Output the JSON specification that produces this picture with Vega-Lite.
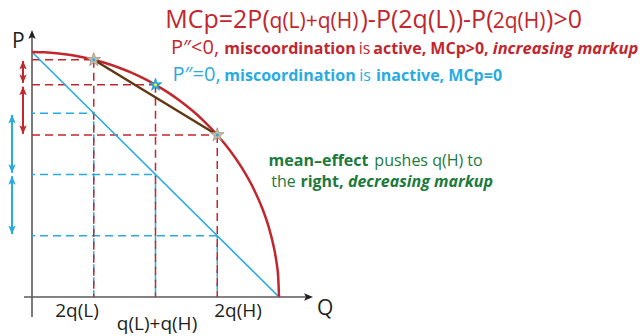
{
  "$schema": "https://vega.github.io/schema/vega-lite/v6.json",
  "width": 644,
  "height": 336,
  "autosize": {"type": "none"},
  "padding": 0,
  "background": "white",
  "config": {"view": {"stroke": null}, "text": {"font": "Open Sans"}},
  "datasets": {
    "segments": [
      {"kind": "axis", "x": 0, "y": -0.0816, "x2": 0, "y2": 1.07},
      {"kind": "axis", "x": -0.0324, "y": 0, "x2": 1.12, "y2": 0},
      {"kind": "blueDash", "x": 0, "y": 0.75, "x2": 0.25, "y2": 0.75},
      {"kind": "blueDash", "x": 0, "y": 0.5, "x2": 0.5, "y2": 0.5},
      {"kind": "blueDash", "x": 0, "y": 0.25, "x2": 0.75, "y2": 0.25},
      {"kind": "blueDash", "x": 0.25, "y": 0.75, "x2": 0.25, "y2": 0},
      {"kind": "blueDash", "x": 0.5, "y": 0.5, "x2": 0.5, "y2": 0},
      {"kind": "blueDash", "x": 0.75, "y": 0.25, "x2": 0.75, "y2": 0},
      {"kind": "redDash", "x": 0, "y": 0.9682, "x2": 0.25, "y2": 0.9682},
      {"kind": "redDash", "x": 0, "y": 0.866, "x2": 0.5, "y2": 0.866},
      {"kind": "redDash", "x": 0, "y": 0.6614, "x2": 0.75, "y2": 0.6614},
      {"kind": "redDash", "x": 0.25, "y": 0.9682, "x2": 0.25, "y2": 0},
      {"kind": "redDash", "x": 0.5, "y": 0.866, "x2": 0.5, "y2": 0},
      {"kind": "redDash", "x": 0.75, "y": 0.6614, "x2": 0.75, "y2": 0},
      {"kind": "blueLine", "x": 0, "y": 1, "x2": 1, "y2": 0},
      {"kind": "chord", "x": 0.25, "y": 0.9682, "x2": 0.75, "y2": 0.6614},
      {"kind": "redArrow", "x": -0.0364, "y": 0.963, "x2": -0.0364, "y2": 0.874},
      {"kind": "redArrow", "x": -0.0364, "y": 0.858, "x2": -0.0364, "y2": 0.666},
      {"kind": "blueArrow", "x": -0.081, "y": 0.743, "x2": -0.081, "y2": 0.507},
      {"kind": "blueArrow", "x": -0.081, "y": 0.493, "x2": -0.081, "y2": 0.257}
    ],
    "curve": [
      {"x": 0, "y": 1},
      {"x": 0.05, "y": 0.9987},
      {"x": 0.1, "y": 0.995},
      {"x": 0.15, "y": 0.9887},
      {"x": 0.2, "y": 0.9798},
      {"x": 0.25, "y": 0.9682},
      {"x": 0.3, "y": 0.9539},
      {"x": 0.35, "y": 0.9367},
      {"x": 0.4, "y": 0.9165},
      {"x": 0.45, "y": 0.893},
      {"x": 0.5, "y": 0.866},
      {"x": 0.55, "y": 0.8352},
      {"x": 0.6, "y": 0.8},
      {"x": 0.65, "y": 0.7599},
      {"x": 0.7, "y": 0.7141},
      {"x": 0.75, "y": 0.6614},
      {"x": 0.8, "y": 0.6},
      {"x": 0.85, "y": 0.5268},
      {"x": 0.9, "y": 0.4359},
      {"x": 0.93, "y": 0.3676},
      {"x": 0.96, "y": 0.28},
      {"x": 0.98, "y": 0.199},
      {"x": 0.99, "y": 0.141},
      {"x": 0.997, "y": 0.0774},
      {"x": 1.0, "y": 0}
    ],
    "heads": [
      {"x": -0.0364, "y": 0.965, "dir": "up", "c": "red"},
      {"x": -0.0364, "y": 0.872, "dir": "down", "c": "red"},
      {"x": -0.0364, "y": 0.86, "dir": "up", "c": "red"},
      {"x": -0.0364, "y": 0.664, "dir": "down", "c": "red"},
      {"x": -0.081, "y": 0.745, "dir": "up", "c": "blue"},
      {"x": -0.081, "y": 0.505, "dir": "down", "c": "blue"},
      {"x": -0.081, "y": 0.495, "dir": "up", "c": "blue"},
      {"x": -0.081, "y": 0.255, "dir": "down", "c": "blue"},
      {"x": 0, "y": 1.0898, "dir": "up", "c": "black"},
      {"x": 1.1377, "y": 0, "dir": "right", "c": "black"}
    ],
    "stars": [
      {"x": 0.25, "y": 0.9682, "kind": "tan"},
      {"x": 0.75, "y": 0.6614, "kind": "tan"},
      {"x": 0.5, "y": 0.866, "kind": "blue"}
    ],
    "labels": [
      {"role": "title", "c": "red", "text": "MCp=2P(", "x": 0.75101, "y": 1.09796},
      {"role": "title", "c": "red", "text": ")-P(2q(L))-P(", "x": 1.59919, "y": 1.09796},
      {"role": "title", "c": "red", "text": ")>0", "x": 2.15385, "y": 1.09796},
      {"role": "titlesub", "c": "red", "text": "q(L)+q(H)", "x": 1.1417, "y": 1.09796},
      {"role": "titlesub", "c": "red", "text": "2q(H)", "x": 1.97166, "y": 1.09796},
      {"role": "cond", "c": "red", "text": "P″<0,", "x": 0.65992, "y": 0.99184},
      {"role": "cond", "c": "blue", "text": "P″=0,", "x": 0.66599, "y": 0.88163},
      {"role": "bold", "c": "red", "text": "miscoordination", "x": 1.04453, "y": 0.99184},
      {"role": "bold", "c": "red", "text": "active, MCp>0,", "x": 1.61538, "y": 0.99184},
      {"role": "bold", "c": "blue", "text": "miscoordination", "x": 1.04453, "y": 0.88163},
      {"role": "bold", "c": "blue", "text": "inactive, MCp=0", "x": 1.64777, "y": 0.88163},
      {"role": "reg", "c": "red", "text": "is", "x": 1.34615, "y": 0.99184},
      {"role": "reg", "c": "blue", "text": "is", "x": 1.34818, "y": 0.88163},
      {"role": "boldit", "c": "red", "text": "increasing markup", "x": 2.15992, "y": 0.99184},
      {"role": "gbold", "c": "green", "text": "mean–effect", "x": 1.15992, "y": 0.53469},
      {"role": "gbold", "c": "green", "text": "right,", "x": 1.17409, "y": 0.44898},
      {"role": "greg", "c": "green", "text": "pushes q(H) to", "x": 1.60526, "y": 0.53469},
      {"role": "greg", "c": "green", "text": "the", "x": 1.01822, "y": 0.44898},
      {"role": "gboldit", "c": "green", "text": "decreasing markup", "x": 1.57287, "y": 0.44898},
      {"role": "axisL", "c": "black", "text": "P", "x": -0.08097, "y": 1.01633},
      {"role": "axisL", "c": "black", "text": "Q", "x": 1.15385, "y": -0.07347},
      {"role": "axisC", "c": "black", "text": "2q(L)", "x": 0.18219, "y": -0.08163},
      {"role": "axisC", "c": "black", "text": "q(L)+q(H)", "x": 0.50607, "y": -0.13469},
      {"role": "axisC", "c": "black", "text": "2q(H)", "x": 0.83401, "y": -0.08163}
    ]
  },
  "encoding": {
    "x": {"field": "x", "type": "quantitative", "scale": {"domain": [-0.129555, 2.477733], "nice": false, "zero": false}, "axis": null},
    "y": {"field": "y", "type": "quantitative", "scale": {"domain": [-0.159184, 1.212245], "nice": false, "zero": false}, "axis": null}
  },
  "layer": [
    {
      "data": {"name": "segments"},
      "transform": [{"filter": "datum.kind === 'axis'"}],
      "mark": {"type": "rule", "color": "#58595b", "strokeWidth": 1.6},
      "encoding": {"x2": {"field": "x2"}, "y2": {"field": "y2"}}
    },
    {
      "data": {"name": "segments"},
      "transform": [{"filter": "datum.kind === 'blueDash'"}],
      "mark": {"type": "rule", "color": "#29abe2", "strokeWidth": 1.5, "strokeDash": [8, 5], "strokeDashOffset": 5},
      "encoding": {"x2": {"field": "x2"}, "y2": {"field": "y2"}}
    },
    {
      "data": {"name": "segments"},
      "transform": [{"filter": "datum.kind === 'redDash'"}],
      "mark": {"type": "rule", "color": "#c1272d", "strokeWidth": 1.5, "strokeDash": [8, 5]},
      "encoding": {"x2": {"field": "x2"}, "y2": {"field": "y2"}}
    },
    {
      "data": {"name": "segments"},
      "transform": [{"filter": "datum.kind === 'blueLine'"}],
      "mark": {"type": "rule", "color": "#29abe2", "strokeWidth": 1.6},
      "encoding": {"x2": {"field": "x2"}, "y2": {"field": "y2"}}
    },
    {
      "data": {"name": "curve"},
      "mark": {"type": "line", "color": "#c1272d", "strokeWidth": 2.5, "interpolate": "monotone"},
      "encoding": {}
    },
    {
      "data": {"name": "segments"},
      "transform": [{"filter": "datum.kind === 'chord'"}],
      "mark": {"type": "rule", "color": "#603813", "strokeWidth": 2.5},
      "encoding": {"x2": {"field": "x2"}, "y2": {"field": "y2"}}
    },
    {
      "data": {"name": "segments"},
      "transform": [{"filter": "datum.kind === 'redArrow'"}],
      "mark": {"type": "rule", "color": "#c1272d", "strokeWidth": 2},
      "encoding": {"x2": {"field": "x2"}, "y2": {"field": "y2"}}
    },
    {
      "data": {"name": "segments"},
      "transform": [{"filter": "datum.kind === 'blueArrow'"}],
      "mark": {"type": "rule", "color": "#29abe2", "strokeWidth": 2},
      "encoding": {"x2": {"field": "x2"}, "y2": {"field": "y2"}}
    },
    {
      "data": {"name": "heads"},
      "mark": {"type": "point", "filled": true, "opacity": 1, "size": 67, "strokeWidth": 0},
      "encoding": {
        "shape": {"field": "dir", "type": "nominal", "legend": null, "scale": {"domain": ["up", "down", "right"], "range": ["M0,0 L0.9,2.2 L0,1.7 L-0.9,2.2 Z", "M0,0 L0.9,-2.2 L0,-1.7 L-0.9,-2.2 Z", "M0,0 L-2.2,-0.9 L-1.7,0 L-2.2,0.9 Z"]}},
        "color": {"field": "c", "type": "nominal", "legend": null, "scale": {"domain": ["red", "blue", "green", "black"], "range": ["#c1272d", "#29abe2", "#1b7a3c", "#231f20"]}}
      }
    },
    {
      "data": {"name": "stars"},
      "transform": [{"filter": "datum.kind === 'tan'"}],
      "mark": {"type": "point", "filled": true, "opacity": 1, "size": 210, "fill": "#c9b9a3", "stroke": "#a39584", "strokeWidth": 0.8, "shape": "M0,-1 L0.235,-0.324 L0.951,-0.309 L0.38,0.124 L0.588,0.809 L0,0.4 L-0.588,0.809 L-0.38,0.124 L-0.951,-0.309 L-0.235,-0.324 Z"},
      "encoding": {}
    },
    {
      "data": {"name": "stars"},
      "transform": [{"filter": "datum.kind === 'blue'"}],
      "mark": {"type": "point", "filled": true, "opacity": 1, "size": 185, "fill": "#29abe2", "stroke": "#1b95cc", "strokeWidth": 0.6, "shape": "M0,-1 L0.235,-0.324 L0.951,-0.309 L0.38,0.124 L0.588,0.809 L0,0.4 L-0.588,0.809 L-0.38,0.124 L-0.951,-0.309 L-0.235,-0.324 Z"},
      "encoding": {}
    },
    {
      "data": {"name": "stars"},
      "transform": [{"filter": "datum.kind === 'tan'"}],
      "mark": {"type": "point", "filled": true, "opacity": 1, "size": 10, "fill": "#29abe2", "strokeWidth": 0, "shape": "circle"},
      "encoding": {}
    },
    {
      "data": {"name": "stars"},
      "transform": [{"filter": "datum.kind === 'blue'"}],
      "mark": {"type": "point", "filled": true, "opacity": 1, "size": 10, "fill": "#f2e33a", "strokeWidth": 0, "shape": "circle"},
      "encoding": {}
    },
    {
      "data": {"name": "labels"},
      "transform": [{"filter": "datum.role === 'title'"}],
      "mark": {"type": "text", "align": "center", "baseline": "alphabetic", "fontSize": 25, "font": "Open Sans"},
      "encoding": {"text": {"field": "text"}, "color": {"field": "c", "type": "nominal", "legend": null, "scale": {"domain": ["red", "blue", "green", "black"], "range": ["#c1272d", "#29abe2", "#1b7a3c", "#231f20"]}}}
    },
    {
      "data": {"name": "labels"},
      "transform": [{"filter": "datum.role === 'titlesub'"}],
      "mark": {"type": "text", "align": "center", "baseline": "alphabetic", "fontSize": 21, "font": "Open Sans"},
      "encoding": {"text": {"field": "text"}, "color": {"field": "c", "type": "nominal", "legend": null, "scale": {"domain": ["red", "blue", "green", "black"], "range": ["#c1272d", "#29abe2", "#1b7a3c", "#231f20"]}}}
    },
    {
      "data": {"name": "labels"},
      "transform": [{"filter": "datum.role === 'cond'"}],
      "mark": {"type": "text", "align": "center", "baseline": "alphabetic", "fontSize": 20, "font": "Open Sans"},
      "encoding": {"text": {"field": "text"}, "color": {"field": "c", "type": "nominal", "legend": null, "scale": {"domain": ["red", "blue", "green", "black"], "range": ["#c1272d", "#29abe2", "#1b7a3c", "#231f20"]}}}
    },
    {
      "data": {"name": "labels"},
      "transform": [{"filter": "datum.role === 'bold'"}],
      "mark": {"type": "text", "align": "center", "baseline": "alphabetic", "fontSize": 16, "fontWeight": "bold", "font": "Open Sans"},
      "encoding": {"text": {"field": "text"}, "color": {"field": "c", "type": "nominal", "legend": null, "scale": {"domain": ["red", "blue", "green", "black"], "range": ["#c1272d", "#29abe2", "#1b7a3c", "#231f20"]}}}
    },
    {
      "data": {"name": "labels"},
      "transform": [{"filter": "datum.role === 'reg'"}],
      "mark": {"type": "text", "align": "center", "baseline": "alphabetic", "fontSize": 16, "font": "Open Sans"},
      "encoding": {"text": {"field": "text"}, "color": {"field": "c", "type": "nominal", "legend": null, "scale": {"domain": ["red", "blue", "green", "black"], "range": ["#c1272d", "#29abe2", "#1b7a3c", "#231f20"]}}}
    },
    {
      "data": {"name": "labels"},
      "transform": [{"filter": "datum.role === 'boldit'"}],
      "mark": {"type": "text", "align": "center", "baseline": "alphabetic", "fontSize": 16.5, "fontWeight": "bold", "fontStyle": "italic", "font": "Open Sans"},
      "encoding": {"text": {"field": "text"}, "color": {"field": "c", "type": "nominal", "legend": null, "scale": {"domain": ["red", "blue", "green", "black"], "range": ["#c1272d", "#29abe2", "#1b7a3c", "#231f20"]}}}
    },
    {
      "data": {"name": "labels"},
      "transform": [{"filter": "datum.role === 'gbold'"}],
      "mark": {"type": "text", "align": "center", "baseline": "alphabetic", "fontSize": 16, "fontWeight": "bold", "font": "Open Sans"},
      "encoding": {"text": {"field": "text"}, "color": {"field": "c", "type": "nominal", "legend": null, "scale": {"domain": ["red", "blue", "green", "black"], "range": ["#c1272d", "#29abe2", "#1b7a3c", "#231f20"]}}}
    },
    {
      "data": {"name": "labels"},
      "transform": [{"filter": "datum.role === 'greg'"}],
      "mark": {"type": "text", "align": "center", "baseline": "alphabetic", "fontSize": 16, "font": "Open Sans"},
      "encoding": {"text": {"field": "text"}, "color": {"field": "c", "type": "nominal", "legend": null, "scale": {"domain": ["red", "blue", "green", "black"], "range": ["#c1272d", "#29abe2", "#1b7a3c", "#231f20"]}}}
    },
    {
      "data": {"name": "labels"},
      "transform": [{"filter": "datum.role === 'gboldit'"}],
      "mark": {"type": "text", "align": "center", "baseline": "alphabetic", "fontSize": 16, "fontWeight": "bold", "fontStyle": "italic", "font": "Open Sans"},
      "encoding": {"text": {"field": "text"}, "color": {"field": "c", "type": "nominal", "legend": null, "scale": {"domain": ["red", "blue", "green", "black"], "range": ["#c1272d", "#29abe2", "#1b7a3c", "#231f20"]}}}
    },
    {
      "data": {"name": "labels"},
      "transform": [{"filter": "datum.role === 'axisL'"}],
      "mark": {"type": "text", "align": "left", "baseline": "alphabetic", "fontSize": 21, "font": "Open Sans"},
      "encoding": {"text": {"field": "text"}, "color": {"field": "c", "type": "nominal", "legend": null, "scale": {"domain": ["red", "blue", "green", "black"], "range": ["#c1272d", "#29abe2", "#1b7a3c", "#231f20"]}}}
    },
    {
      "data": {"name": "labels"},
      "transform": [{"filter": "datum.role === 'axisC'"}],
      "mark": {"type": "text", "align": "center", "baseline": "alphabetic", "fontSize": 19, "font": "Open Sans"},
      "encoding": {"text": {"field": "text"}, "color": {"field": "c", "type": "nominal", "legend": null, "scale": {"domain": ["red", "blue", "green", "black"], "range": ["#c1272d", "#29abe2", "#1b7a3c", "#231f20"]}}}
    }
  ]
}
